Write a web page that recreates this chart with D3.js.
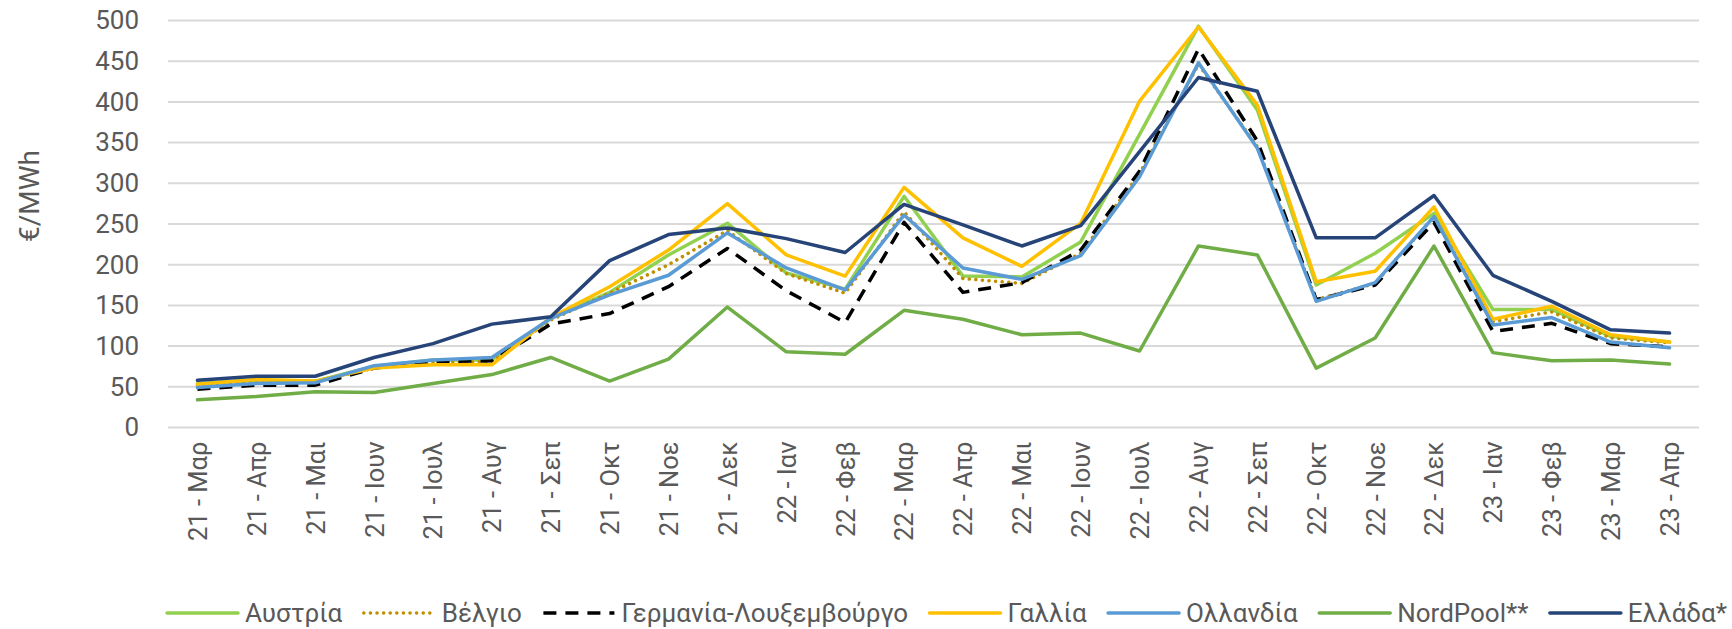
<!DOCTYPE html>
<meta charset="utf-8">

<body style="margin:0">
  <style>
    body {
      background: #fff;
    }

    text {
      font-family: Roboto, "Noto Sans", sans-serif;
      fill: #595959;
    }
  </style>
  <div id="box"></div>
  <script src="https://d3js.org/d3.v7.min.js"></script>
  <script>
    // months on the x axis
    var months = ["21 - Μαρ", "21 - Απρ", "21 - Μαι", "21 - Ιουν", "21 - Ιουλ", "21 - Αυγ", "21 - Σεπ",
      "21 - Οκτ", "21 - Νοε", "21 - Δεκ", "22 - Ιαν", "22 - Φεβ", "22 - Μαρ", "22 - Απρ", "22 - Μαι",
      "22 - Ιουν", "22 - Ιουλ", "22 - Αυγ", "22 - Σεπ", "22 - Οκτ", "22 - Νοε", "22 - Δεκ", "23 - Ιαν",
      "23 - Φεβ", "23 - Μαρ", "23 - Απρ"
    ];

    var austria = [54, 58, 57, 75, 83, 83, 134, 166, 212, 251, 190, 170, 284, 186, 185, 228, 360, 493, 390, 175, 214, 263, 145, 145, 112, 105];
    var belgium = [51, 57, 56, 73, 80, 81, 132, 165, 200, 242, 189, 165, 265, 183, 177, 214, 312, 446, 345, 157, 177, 259, 130, 142, 110, 104];
    var germany = [47, 52, 52, 73, 81, 82, 127, 140, 173, 220, 168, 129, 252, 166, 178, 218, 315, 465, 352, 157, 175, 252, 118, 128, 103, 99];
    var france = [53, 59, 57, 73, 77, 77, 135, 173, 218, 275, 212, 186, 295, 233, 198, 251, 401, 492, 396, 179, 192, 271, 133, 149, 114, 105];
    var netherlands = [49, 54, 55, 76, 83, 86, 134, 163, 187, 239, 196, 169, 261, 196, 182, 211, 308, 448, 343, 155, 178, 259, 126, 135, 105, 98];
    var nordpool = [34, 38, 44, 43, 54, 65, 86, 57, 84, 148, 93, 90, 144, 133, 114, 116, 94, 223, 212, 73, 110, 223, 92, 82, 83, 78];
    var greece = [58, 63, 63, 86, 103, 127, 136, 205, 237, 245, 232, 215, 274, 249, 223, 248, 339, 430, 413, 233, 233, 285, 187, 155, 120, 116];

    var yTicks = [0, 50, 100, 150, 200, 250, 300, 350, 400, 450, 500];

    var series = [
      { name: "Αυστρία", values: austria, color: "#92D050", dash: null },
      { name: "Βέλγιο", values: belgium, color: "#BF8F00", dash: "dot" },
      { name: "Γερμανία-Λουξεμβούργο", values: germany, color: "#000000", dash: "dash" },
      { name: "Γαλλία", values: france, color: "#FFC000", dash: null },
      { name: "Ολλανδία", values: netherlands, color: "#5B9BD5", dash: null },
      { name: "NordPool**", values: nordpool, color: "#70AD47", dash: null },
      { name: "Ελλάδα*", values: greece, color: "#264478", dash: null }
    ];

    var width = 1732,
      height = 629,
      plot = { left: 168, right: 1699, top: 20.5, bottom: 427.5 };

    var svg = d3.select("#box")
      .append("svg")
      .attr("width", width)
      .attr("height", height);

    var xScale = d3.scalePoint()
      .domain(months)
      .range([plot.left, plot.right])
      .padding(0.5);

    var yScale = d3.scaleLinear()
      .domain([0, 500])
      .range([plot.bottom, plot.top]);

    // gridlines
    svg.append("g")
      .selectAll("line")
      .data(yTicks)
      .enter()
      .append("line")
      .attr("x1", plot.left)
      .attr("x2", plot.right)
      .attr("y1", function(d) { return yScale(d); })
      .attr("y2", function(d) { return yScale(d); })
      .attr("stroke", "#d9d9d9")
      .attr("stroke-width", 2);

    // y axis labels
    var yAxis = d3.axisLeft(yScale)
      .tickValues(yTicks)
      .tickSize(0)
      .tickPadding(29);

    svg.append("g")
      .attr("transform", "translate(" + plot.left + ",0)")
      .call(yAxis)
      .call(function(g) { g.select(".domain").remove(); })
      .selectAll("text")
      .style("font-size", "26px")
      .style("font-family", "Roboto, sans-serif")
      .attr("fill", "#595959");

    // x axis labels, rotated
    var xAxis = d3.axisBottom(xScale).tickSize(0).tickPadding(0);

    svg.append("g")
      .attr("transform", "translate(0," + plot.bottom + ")")
      .call(xAxis)
      .call(function(g) { g.select(".domain").remove(); })
      .selectAll("text")
      .style("font-size", "25.5px")
      .style("font-family", "Roboto, sans-serif")
      .attr("fill", "#595959")
      .attr("text-anchor", "end")
      .attr("transform", "rotate(-90)")
      .attr("x", -14)
      .attr("y", 0)
      .attr("dy", "0.35em");

    // y axis title
    svg.append("text")
      .attr("transform", "translate(29,196) rotate(-90)")
      .attr("text-anchor", "middle")
      .attr("dy", "0.35em")
      .style("font-size", "28px")
      .text("€/MWh");

    function applyDash(sel, d) {
      if (d.dash === "dash") {
        sel.attr("stroke-dasharray", "13,9").attr("stroke-linecap", "butt");
      } else if (d.dash === "dot") {
        sel.attr("stroke-dasharray", "0.1,6.5").attr("stroke-linecap", "round");
      } else {
        sel.attr("stroke-linecap", "round");
      }
    }

    var line = d3.line()
      .x(function(d, i) { return xScale(months[i]); })
      .y(function(d) { return yScale(d); });

    // lines
    svg.append("g")
      .selectAll("path")
      .data(series)
      .enter()
      .append("path")
      .attr("d", function(d) { return line(d.values); })
      .attr("fill", "none")
      .attr("stroke", function(d) { return d.color; })
      .attr("stroke-width", 3.5)
      .attr("stroke-linejoin", "round")
      .each(function(d) { applyDash(d3.select(this), d); });

    // legend, spread between x=167 and x=1727
    var legend = svg.append("g").attr("class", "legend");
    var sampleLen = 71,
      textGap = 7,
      legendY = 613,
      startX = 167,
      endX = 1727;

    var items = legend.selectAll("g")
      .data(series)
      .enter()
      .append("g");

    items.append("line")
      .attr("x1", 0)
      .attr("x2", sampleLen)
      .attr("y1", 0)
      .attr("y2", 0)
      .attr("stroke", function(d) { return d.color; })
      .attr("stroke-width", 3.5)
      .each(function(d) { applyDash(d3.select(this), d); });

    items.append("text")
      .attr("x", sampleLen + textGap)
      .attr("dy", "0.35em")
      .style("font-size", "26px")
      .text(function(d) { return d.name; });

    var widths = [];
    items.each(function() {
      widths.push(sampleLen + textGap + d3.select(this).select("text").node().getComputedTextLength());
    });
    var itemGap = Math.max(10, (endX - startX - d3.sum(widths)) / (widths.length - 1));

    var pos = startX;
    var offsets = widths.map(function(w) {
      var p = pos;
      pos += w + itemGap;
      return p;
    });

    items.attr("transform", function(d, i) {
      return "translate(" + offsets[i] + "," + legendY + ")";
    });
  </script>
</body>
